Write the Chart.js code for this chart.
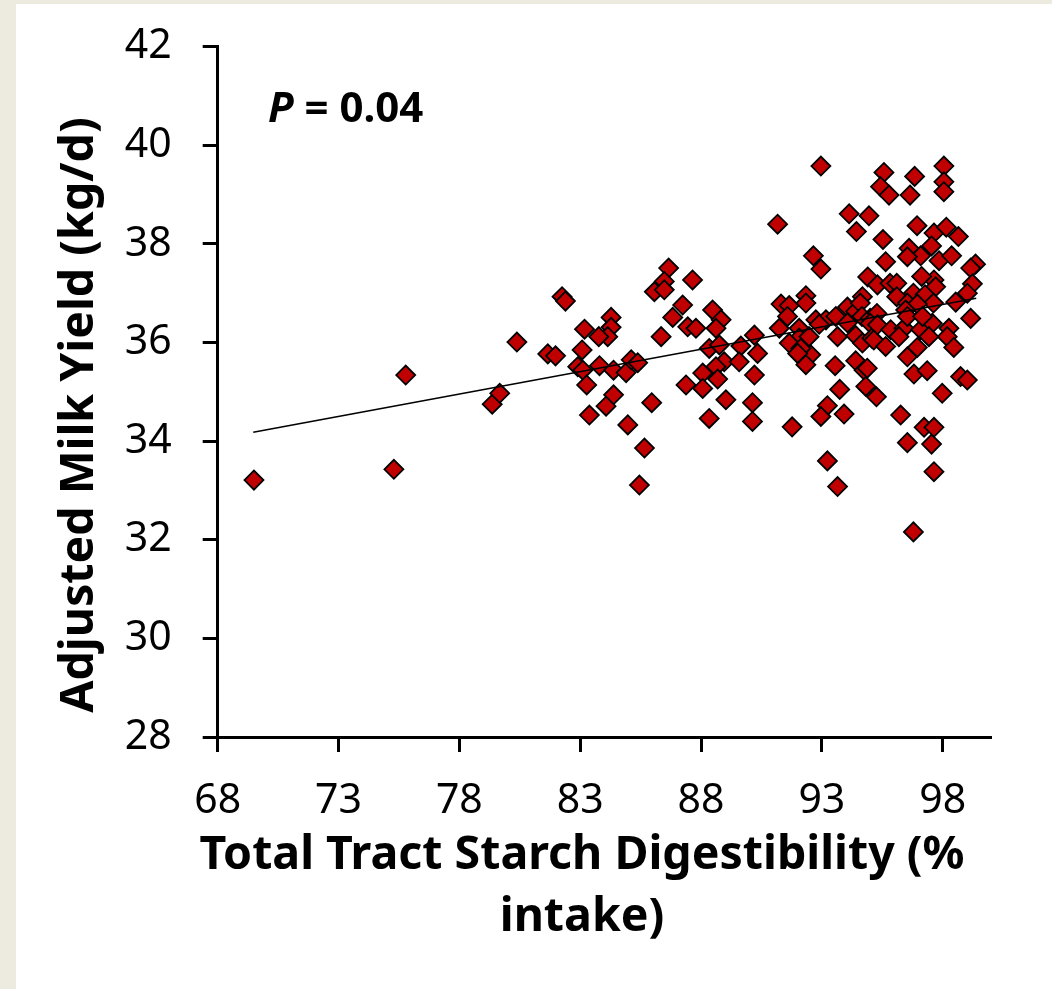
<!DOCTYPE html>
<html>
<head>
<meta charset="utf-8">
<script src="https://cdn.jsdelivr.net/npm/chart.js@4.4.1/dist/chart.umd.min.js"></script>
<style>
    html, body { margin: 0; padding: 0; background: #edebe0; }
    #panel { position: absolute; left: 16px; top: 4px; width: 1036px; height: 985px; background: #ffffff; }
    canvas { display: block; }
</style>
</head>
<body>
<div id="panel"><canvas id="myChart" width="1036" height="985"></canvas></div>
<script>
// digestibility (% intake) and adjusted milk yield (kg/d)
const xValues = [
    69.5, 75.29, 75.78, 79.36, 79.67, 80.38, 81.66, 81.98, 82.25, 82.39,
    83.18, 83.08, 84.28, 84.28, 84.14, 83.77, 82.9, 83.11, 83.8, 84.38,
    84.9, 85.11, 85.38, 83.27, 84.38, 84.07, 83.38, 85.96, 84.97, 85.66,
    85.45, 86.66, 86.48, 86.07, 86.48, 87.65, 87.24, 86.83, 86.35, 87.45,
    87.79, 88.48, 88.83, 88.62, 88.34, 88.76, 88.96, 88.62, 88.07, 87.38,
    88.07, 88.69, 89.03, 88.34, 90.21, 89.65, 90.34, 89.58, 90.21, 90.13,
    90.13,
    92.96, 94.13, 94.95, 94.43, 91.17, 92.65, 92.96, 94.9, 92.34, 92.34,
    91.31, 91.65, 91.58, 91.24, 92.06, 92.75, 93.17, 93.58, 94.06, 94.4,
    94.68, 92.89, 94.06, 93.65, 94.4, 94.68, 92.06, 92.47, 91.65, 92.06,
    92.54, 92.34, 93.55, 94.4, 94.75, 94.82, 93.74, 93.23, 93.92, 92.96,
    91.77, 93.23, 93.65, 92.13, 92.0, 94.59, 94.66, 95.0, 95.28, 95.0,
    95.07, 94.88,
    95.57, 95.43, 95.78, 96.84, 96.65, 98.05, 98.05, 98.05, 95.53, 95.64,
    96.94, 97.64, 98.15, 98.65, 97.54, 97.85, 98.37, 96.61, 97.09, 96.54,
    99.36, 99.16, 99.23, 99.02, 98.54, 99.16, 97.64, 97.71, 97.13, 95.3,
    95.82, 96.1, 96.1, 96.79, 97.27, 97.62, 96.54, 96.95, 96.47, 95.3,
    95.85, 96.4, 97.09, 97.57, 98.26, 98.19, 95.15, 95.64, 96.19, 96.54,
    96.95, 97.43, 98.46, 96.81, 97.36, 98.74, 99.02, 97.98, 95.26, 96.26,
    97.23, 97.64, 96.54, 97.54, 97.64, 96.79, 96.54, 97.17
];
const yValues = [
    33.21, 33.43, 35.34, 34.75, 34.97, 36.01, 35.77, 35.73, 36.93, 36.84,
    36.27, 35.85, 36.51, 36.31, 36.12, 36.12, 35.51, 35.44, 35.53, 35.44,
    35.39, 35.65, 35.59, 35.14, 34.94, 34.71, 34.53, 34.78, 34.33, 33.86,
    33.11, 37.51, 37.24, 37.03, 37.07, 37.27, 36.76, 36.51, 36.12, 36.32,
    36.29, 36.66, 36.46, 36.29, 35.88, 35.95, 35.61, 35.51, 35.38, 35.14,
    35.07, 35.26, 34.84, 34.46, 36.15, 35.93, 35.78, 35.61, 35.34, 34.78,
    34.4,
    39.58, 38.61, 38.57, 38.25, 38.4, 37.76, 37.49, 37.33, 36.95, 36.8,
    36.78, 36.75, 36.53, 36.29, 36.29, 36.46, 36.46, 36.53, 36.72, 36.63,
    36.93, 36.37, 36.4, 36.12, 36.14, 35.99, 36.09, 36.12, 35.99, 35.75,
    35.75, 35.55, 35.53, 35.63, 35.44, 35.11, 35.05, 34.72, 34.55, 34.5,
    34.29, 33.6, 33.08, 35.88, 35.78, 36.8, 36.53, 36.49, 36.59, 36.39,
    36.09, 35.48,
    39.45, 39.16, 38.99, 39.37, 38.99, 39.58, 39.26, 39.06, 38.09, 37.64,
    38.37, 38.22, 38.34, 38.15, 37.96, 37.66, 37.76, 37.91, 37.76, 37.74,
    37.59, 37.51, 37.19, 37.0, 36.82, 36.49, 37.27, 37.13, 37.34, 37.17,
    37.2, 37.2, 36.93, 37.0, 36.97, 36.8, 36.8, 36.78, 36.66, 36.36,
    36.26, 36.29, 36.26, 36.39, 36.29, 36.12, 36.05, 35.92, 36.12, 35.71,
    35.9, 36.12, 35.9, 35.36, 35.43, 35.31, 35.24, 34.97, 34.9, 34.53,
    34.28, 34.28, 33.97, 33.94, 33.38, 32.16, 36.53, 36.53
];

// fitted line ends
const trendX = [69.47, 99.39];
const trendY = [34.18, 36.9];

const xTicks = [68, 73, 78, 83, 88, 93, 98];
const yTicks = [28, 30, 32, 34, 36, 38, 40, 42];

const xTitle = ["Total Tract Starch Digestibility (%", "intake)"];
const yTitle = "Adjusted Milk Yield (kg/d)";
const pLabel = ["P", " = 0.04"];

const titles = {
    id: "titles",
    afterDraw(chart) {
        const ctx = chart.ctx;
        ctx.save();
        ctx.fillStyle = "#000";
        ctx.textAlign = "center";
        ctx.textBaseline = "middle";
        ctx.font = "bold 46.5px 'Noto Sans'";
        ctx.fillText(xTitle[0], 566, 852);
        ctx.fillText(xTitle[1], 566, 914);

        ctx.save();
        ctx.translate(64, 411);
        ctx.rotate(-Math.PI / 2);
        ctx.fillText(yTitle, 0, 0);
        ctx.restore();

        ctx.textAlign = "left";
        ctx.textBaseline = "alphabetic";
        ctx.font = "italic bold 42px 'Noto Sans'";
        ctx.fillText(pLabel[0], 252, 118);
        const w = ctx.measureText(pLabel[0]).width;
        ctx.font = "bold 42px 'Noto Sans'";
        ctx.fillText(pLabel[1], 252 + w, 118);
        ctx.restore();
    },
};

const axisStyle = {
    grid: { display: true, drawOnChartArea: false, drawTicks: true, tickLength: 15, tickWidth: 3, tickColor: "#000" },
    border: { display: true, color: "#000", width: 3 },
};

const ctx = document.getElementById("myChart").getContext("2d");
new Chart(ctx, {
    type: "scatter",
    data: {
        datasets: [
            {
                type: "line",
                data: trendX.map((x, i) => ({ x: x, y: trendY[i] })),
                borderColor: "#000",
                borderWidth: 1.5,
                pointRadius: 0,
                fill: false,
                order: 0,
            },
            {
                data: xValues.map((x, i) => ({ x: x, y: yValues[i] })),
                pointStyle: "rectRot",
                pointRadius: 9.5,
                pointHoverRadius: 9.5,
                backgroundColor: "#c00000",
                borderColor: "#000",
                borderWidth: 1.8,
                order: 1,
            },
        ],
    },
    options: {
        responsive: false,
        animation: false,
        layout: { autoPadding: false, padding: { left: 51.7, right: 61, top: 42.7, bottom: 102 } },
        plugins: { legend: { display: false }, tooltip: { enabled: false } },
        scales: {
            x: {
                type: "linear",
                min: 68,
                max: 100,
                afterBuildTicks: (s) => { s.ticks = xTicks.map((v) => ({ value: v })); },
                afterFit: (s) => {
                    s.height = 150;
                    s.paddingLeft = 0;
                    s.paddingRight = 0;
                },
                ...axisStyle,
                ticks: { color: "#000", font: { family: "'Noto Sans'", size: 41 }, padding: 25, maxRotation: 0, autoSkip: false },
            },
            y: {
                type: "linear",
                min: 28,
                max: 42,
                afterBuildTicks: (s) => { s.ticks = yTicks.map((v) => ({ value: v })); },
                afterFit: (s) => {
                    s.width = 150;
                    s.paddingTop = 0;
                    s.paddingBottom = 0;
                },
                ...axisStyle,
                ticks: { color: "#000", font: { family: "'Noto Sans'", size: 41 }, padding: 31, autoSkip: false },
            },
        },
    },
    plugins: [titles],
});
</script>
</body>
</html>
